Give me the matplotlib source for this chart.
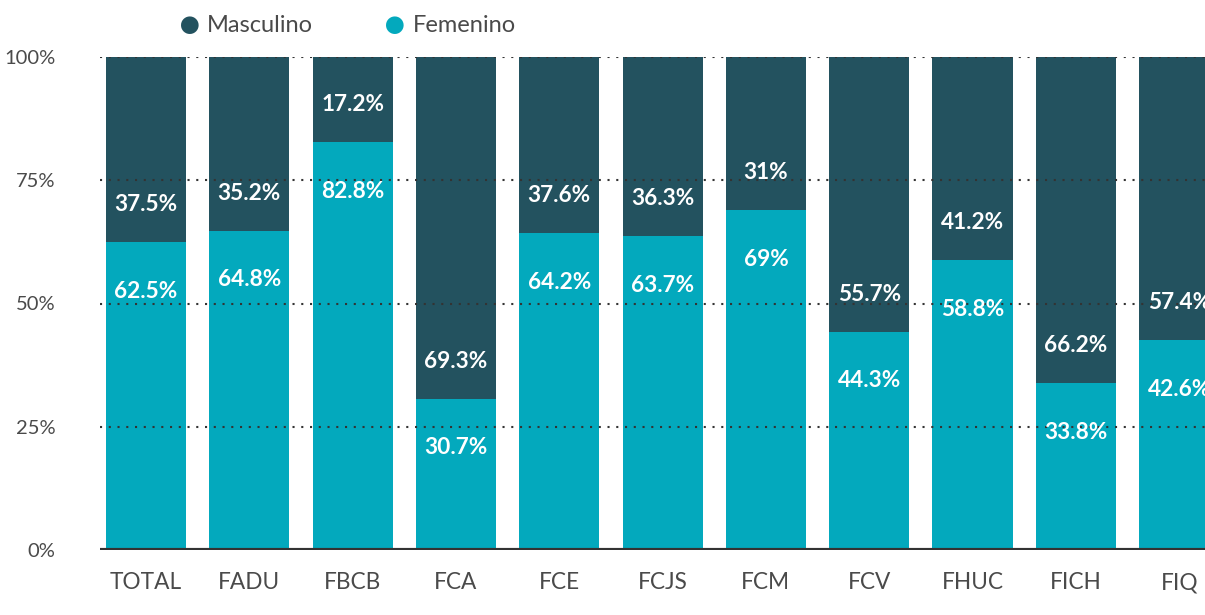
import matplotlib.pyplot as plt
import numpy as np

categorias = ["TOTAL", "FADU", "FBCB", "FCA", "FCE", "FCJS", "FCM", "FCV", "FHUC", "FICH", "FIQ"]
femenino = [62.5, 64.8, 82.8, 30.7, 64.2, 63.7, 69, 44.3, 58.8, 33.8, 42.6]
masculino = [37.5, 35.2, 17.2, 69.3, 35.8, 36.3, 31, 55.7, 41.2, 66.2, 57.4]
masc_labels = ["37.5%", "35.2%", "17.2%", "69.3%", "37.6%", "36.3%", "31%", "55.7%", "41.2%", "66.2%", "57.4%"]
fem_labels = ["62.5%", "64.8%", "82.8%", "30.7%", "64.2%", "63.7%", "69%", "44.3%", "58.8%", "33.8%", "42.6%"]
yticks = [0, 25, 50, 75, 100]

color_masc = "#23525F"
color_fem = "#03A9BD"
txt_color = "#4a4a4a"
plt.rcParams['font.family'] = ['Lato', 'DejaVu Sans']

fig = plt.figure(figsize=(12.05, 6.15), dpi=100)
ax = fig.add_axes([100 / 1205, 65 / 615, 1 - 100 / 1205, 493 / 615])

x = np.arange(len(categorias))
w = 0.775
ax.bar(x, femenino, w, color=color_fem, zorder=1)
ax.bar(x, masculino, w, bottom=femenino, color=color_masc, zorder=1)

for yv in yticks[1:]:
    ax.axhline(yv, color="#333333", lw=1.5, ls=(0, (1, 3.2)), zorder=2)
ax.axhline(0, color="#333333", lw=3, zorder=3)

for i in range(len(categorias)):
    ax.annotate(masc_labels[i], (x[i], femenino[i]), xytext=(0, 27), textcoords="offset points",
                ha="center", va="center", color="white", fontsize=16.3, fontweight="bold", zorder=4)
    ax.annotate(fem_labels[i], (x[i], femenino[i]), xytext=(0, -35.5), textcoords="offset points",
                ha="center", va="center", color="white", fontsize=16.3, fontweight="bold", zorder=4)

ax.set_xlim(-0.445, 10.25)
ax.set_ylim(0, 100)
ax.set_xticks(x)
ax.set_xticklabels(categorias)
ax.set_yticks(yticks)
ax.set_yticklabels([f"{v}%" for v in yticks])
ax.tick_params(length=0, labelcolor=txt_color)
ax.tick_params(axis="x", pad=16, labelsize=16.3)
ax.tick_params(axis="y", pad=32, labelsize=14.5)
for s in ax.spines.values():
    s.set_visible(False)

# legend
fig.text(190 / 1205, 1 - 26 / 615, "\u25CF", color=color_masc, fontsize=26, ha="center", va="center")
fig.text(207 / 1205, 1 - 25 / 615, "Masculino", color=txt_color, fontsize=17, ha="left", va="center")
fig.text(395 / 1205, 1 - 26 / 615, "\u25CF", color=color_fem, fontsize=26, ha="center", va="center")
fig.text(413 / 1205, 1 - 25 / 615, "Femenino", color=txt_color, fontsize=17, ha="left", va="center")

fig.savefig("out.png", dpi=100)
